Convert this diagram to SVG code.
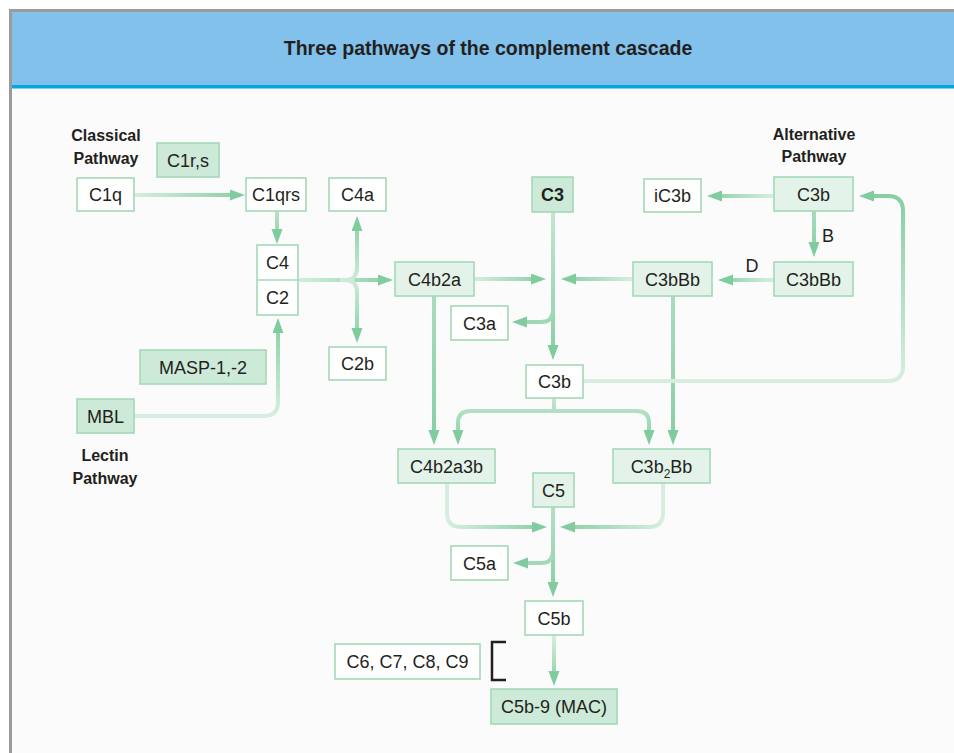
<svg xmlns="http://www.w3.org/2000/svg" width="954" height="753" viewBox="0 0 954 753">
<style>
.bx{stroke:#a3d9b8;stroke-width:1.6}
.w{fill:#ffffff}
.lt{fill:#e3f3e9}
.md{fill:#cde9d7}
.t{font-family:"Liberation Sans",Arial,sans-serif;font-size:18px;fill:#231f20;text-anchor:middle}
.b{font-weight:bold}
.hd{font-family:"Liberation Sans",Arial,sans-serif;font-size:16px;font-weight:bold;fill:#231f20;text-anchor:middle}
.c{fill:none;stroke-width:4;marker-end:url(#ah)}
</style>
<defs>
<marker id="ah" markerUnits="userSpaceOnUse" markerWidth="16" markerHeight="12" refX="3" refY="5.5" orient="auto">
<path d="M0,0 L15,5.5 L0,11 Z" fill="#80cc9f"/>
</marker>
<linearGradient id="g1" gradientUnits="userSpaceOnUse" x1="134" y1="0" x2="245" y2="0"><stop offset="0" stop-color="#d6eedf"/><stop offset="1" stop-color="#86cfa4"/></linearGradient>
<linearGradient id="g2" gradientUnits="userSpaceOnUse" x1="0" y1="211" x2="0" y2="245"><stop offset="0" stop-color="#b9e2c9"/><stop offset="1" stop-color="#86cfa4"/></linearGradient>
<linearGradient id="g3" gradientUnits="userSpaceOnUse" x1="298" y1="0" x2="395" y2="0"><stop offset="0" stop-color="#d6eedf"/><stop offset="1" stop-color="#86cfa4"/></linearGradient>
<linearGradient id="g3u" gradientUnits="userSpaceOnUse" x1="0" y1="280" x2="0" y2="216"><stop offset="0" stop-color="#cdebd8"/><stop offset="1" stop-color="#86cfa4"/></linearGradient>
<linearGradient id="g3d" gradientUnits="userSpaceOnUse" x1="0" y1="280" x2="0" y2="343"><stop offset="0" stop-color="#cdebd8"/><stop offset="1" stop-color="#86cfa4"/></linearGradient>
<linearGradient id="g4" gradientUnits="userSpaceOnUse" x1="0" y1="416" x2="0" y2="318"><stop offset="0" stop-color="#d6eedf"/><stop offset="1" stop-color="#86cfa4"/></linearGradient>
<linearGradient id="g5" gradientUnits="userSpaceOnUse" x1="473" y1="0" x2="546" y2="0"><stop offset="0" stop-color="#d6eedf"/><stop offset="1" stop-color="#86cfa4"/></linearGradient>
<linearGradient id="g6" gradientUnits="userSpaceOnUse" x1="633" y1="0" x2="561" y2="0"><stop offset="0" stop-color="#d6eedf"/><stop offset="1" stop-color="#86cfa4"/></linearGradient>
<linearGradient id="g7" gradientUnits="userSpaceOnUse" x1="0" y1="211" x2="0" y2="360"><stop offset="0" stop-color="#c3e6d0"/><stop offset="1" stop-color="#86cfa4"/></linearGradient>
<linearGradient id="g9" gradientUnits="userSpaceOnUse" x1="0" y1="296" x2="0" y2="445"><stop offset="0" stop-color="#a9dcbe"/><stop offset="1" stop-color="#86cfa4"/></linearGradient>
<linearGradient id="g11" gradientUnits="userSpaceOnUse" x1="0" y1="381" x2="0" y2="196"><stop offset="0" stop-color="#d6eedf"/><stop offset="1" stop-color="#86cfa4"/></linearGradient>
<linearGradient id="g12" gradientUnits="userSpaceOnUse" x1="774" y1="0" x2="707" y2="0"><stop offset="0" stop-color="#d6eedf"/><stop offset="1" stop-color="#86cfa4"/></linearGradient>
<linearGradient id="g13" gradientUnits="userSpaceOnUse" x1="0" y1="211" x2="0" y2="257"><stop offset="0" stop-color="#a9dcbe"/><stop offset="1" stop-color="#86cfa4"/></linearGradient>
<linearGradient id="g14" gradientUnits="userSpaceOnUse" x1="774" y1="0" x2="718" y2="0"><stop offset="0" stop-color="#d6eedf"/><stop offset="1" stop-color="#86cfa4"/></linearGradient>
<linearGradient id="g15" gradientUnits="userSpaceOnUse" x1="0" y1="398" x2="0" y2="445"><stop offset="0" stop-color="#c3e6d0"/><stop offset="1" stop-color="#86cfa4"/></linearGradient>
<linearGradient id="g16" gradientUnits="userSpaceOnUse" x1="447" y1="0" x2="547" y2="0"><stop offset="0" stop-color="#d6eedf"/><stop offset="1" stop-color="#86cfa4"/></linearGradient>
<linearGradient id="g17" gradientUnits="userSpaceOnUse" x1="663" y1="0" x2="560" y2="0"><stop offset="0" stop-color="#d6eedf"/><stop offset="1" stop-color="#86cfa4"/></linearGradient>
<linearGradient id="g18" gradientUnits="userSpaceOnUse" x1="0" y1="507" x2="0" y2="597"><stop offset="0" stop-color="#b3e0c5"/><stop offset="1" stop-color="#86cfa4"/></linearGradient>
<linearGradient id="g20" gradientUnits="userSpaceOnUse" x1="0" y1="635" x2="0" y2="686"><stop offset="0" stop-color="#d6eedf"/><stop offset="1" stop-color="#86cfa4"/></linearGradient>
</defs>

<!-- frame -->
<rect x="0" y="0" width="954" height="753" fill="#ffffff"/>
<rect x="12" y="88" width="942" height="665" fill="#fbfbfb"/>
<rect x="9" y="9" width="945" height="3" fill="#9b9b9b"/>
<rect x="9" y="9" width="3" height="744" fill="#9b9b9b"/>
<rect x="12" y="12" width="942" height="73" fill="#82c1eb"/>
<rect x="12" y="85" width="942" height="3.5" fill="#00a8e1"/>
<text x="488" y="55" font-family="'Liberation Sans',Arial,sans-serif" font-size="19.5" font-weight="bold" fill="#231f20" text-anchor="middle">Three pathways of the complement cascade</text>

<g id="connectors">
<path class="c" stroke="url(#g1)" d="M134,195 H233"/>
<path class="c" stroke="url(#g2)" d="M277,211 V232"/>
<path class="c" stroke="url(#g3)" d="M298,280 H381"/>
<path class="c" stroke="url(#g3u)" d="M340,280 H345 Q357,280 357,268 V228"/>
<path class="c" stroke="url(#g3d)" d="M340,280 H345 Q357,280 357,292 V331"/>
<path class="c" stroke="url(#g4)" d="M134,416 H264 Q278,416 278,402 V330"/>
<path class="c" stroke="url(#g5)" d="M473,279 H534"/>
<path class="c" stroke="url(#g6)" d="M633,279 H573"/>
<path class="c" stroke="url(#g7)" d="M553,211 V348"/>
<path class="c" stroke="#9fd8b6" d="M553,300 V310 Q553,322 541,322 H524"/>
<path class="c" stroke="url(#g9)" d="M434,296 V433"/>
<path class="c" stroke="url(#g9)" d="M673,296 V433"/>
<path class="c" stroke="url(#g11)" d="M583,381 H888 Q903,381 903,366 V211 Q903,196 888,196 H871"/>
<path class="c" stroke="url(#g12)" d="M774,196 H719"/>
<path class="c" stroke="url(#g13)" d="M814,211 V245"/>
<path class="c" stroke="url(#g14)" d="M774,280 H730"/>
<path class="c" stroke="url(#g15)" d="M554,398 V411 H470 Q458,411 458,423 V433"/>
<path class="c" stroke="url(#g15)" d="M554,411 H637 Q649,411 649,423 V433"/>
<path class="c" stroke="url(#g16)" d="M447,483 V513 Q447,527 461,527 H535"/>
<path class="c" stroke="url(#g17)" d="M663,483 V513 Q663,527 649,527 H572"/>
<path class="c" stroke="url(#g18)" d="M553,507 V585"/>
<path class="c" stroke="#a3d9b8" d="M553,540 V551 Q553,563 541,563 H525"/>
<path class="c" stroke="url(#g20)" d="M554,635 V674"/>
<path d="M506,642 H492 V680 H506" fill="none" stroke="#231f20" stroke-width="2.5"/>
</g>

<g id="lbl-classical"><text class="hd" x="106" y="141">Classical</text><text class="hd" x="106" y="164">Pathway</text></g>
<g id="lbl-alternative"><text class="hd" x="814" y="140">Alternative</text><text class="hd" x="814" y="162">Pathway</text></g>
<g id="lbl-lectin"><text class="hd" x="105" y="461">Lectin</text><text class="hd" x="105" y="484">Pathway</text></g>
<g id="lbl-B"><text class="t" x="828" y="242">B</text></g>
<g id="lbl-D"><text class="t" x="752" y="272">D</text></g>

<g id="n-c1rs"><rect class="bx md" x="157" y="143" width="62" height="34"/><text class="t" x="188" y="166.5">C1r,s</text></g>
<g id="n-c1q"><rect class="bx w" x="77" y="178" width="57" height="33"/><text class="t" x="105.5" y="201">C1q</text></g>
<g id="n-c1qrs"><rect class="bx w" x="246" y="178" width="60" height="33"/><text class="t" x="276" y="201">C1qrs</text></g>
<g id="n-c4a"><rect class="bx w" x="329" y="178" width="57" height="33"/><text class="t" x="357.5" y="201">C4a</text></g>
<g id="n-c4c2"><rect class="bx w" x="257" y="245" width="41" height="70"/><line class="bx" x1="257" y1="280" x2="298" y2="280"/><text class="t" x="277.5" y="268.5">C4</text><text class="t" x="277.5" y="303.5">C2</text></g>
<g id="n-c2b"><rect class="bx w" x="329" y="347" width="57" height="33"/><text class="t" x="357.5" y="370">C2b</text></g>
<g id="n-masp"><rect class="bx md" x="140" y="350" width="126" height="34"/><text class="t" x="203" y="373.5">MASP-1,-2</text></g>
<g id="n-mbl"><rect class="bx md" x="77" y="399" width="57" height="34"/><text class="t" x="105.5" y="422.5">MBL</text></g>
<g id="n-c4b2a"><rect class="bx lt" x="395" y="262" width="79" height="34"/><text class="t" x="434.5" y="285.5">C4b2a</text></g>
<g id="n-c3"><rect class="bx md" x="532" y="177" width="41" height="35"/><text class="t b" x="552.5" y="200.5">C3</text></g>
<g id="n-c3a"><rect class="bx w" x="451" y="306" width="57" height="34"/><text class="t" x="479.5" y="329.5">C3a</text></g>
<g id="n-ic3b"><rect class="bx w" x="644" y="179" width="57" height="33"/><text class="t" x="672.5" y="202">iC3b</text></g>
<g id="n-c3b-alt"><rect class="bx lt" x="774" y="177" width="79" height="34"/><text class="t" x="813.5" y="200.5">C3b</text></g>
<g id="n-c3bbb-left"><rect class="bx lt" x="633" y="262" width="79" height="34"/><text class="t" x="672.5" y="285.5">C3bBb</text></g>
<g id="n-c3bbb-right"><rect class="bx lt" x="774" y="262" width="79" height="34"/><text class="t" x="813.5" y="285.5">C3bBb</text></g>
<g id="n-c3b"><rect class="bx w" x="526" y="365" width="57" height="33"/><text class="t" x="554.5" y="388">C3b</text></g>
<g id="n-c4b2a3b"><rect class="bx lt" x="398" y="449" width="97" height="34"/><text class="t" x="446.5" y="472.5">C4b2a3b</text></g>
<g id="n-c3b2bb"><rect class="bx lt" x="613" y="449" width="97" height="34"/><text class="t" x="661.5" y="472.5">C3b<tspan font-size="12" dy="5">2</tspan><tspan dy="-5">Bb</tspan></text></g>
<g id="n-c5"><rect class="bx lt" x="533" y="473" width="41" height="34"/><text class="t" x="553.5" y="496.5">C5</text></g>
<g id="n-c5a"><rect class="bx w" x="451" y="546" width="57" height="34"/><text class="t" x="479.5" y="569.5">C5a</text></g>
<g id="n-c5b"><rect class="bx w" x="525" y="601" width="58" height="34"/><text class="t" x="554" y="624.5">C5b</text></g>
<g id="n-c6c9"><rect class="bx w" x="335" y="644" width="145" height="35"/><text class="t" x="407.5" y="668">C6, C7, C8, C9</text></g>
<g id="n-mac"><rect class="bx md" x="491" y="689" width="126" height="35"/><text class="t" x="554" y="713">C5b-9 (MAC)</text></g>
</svg>
